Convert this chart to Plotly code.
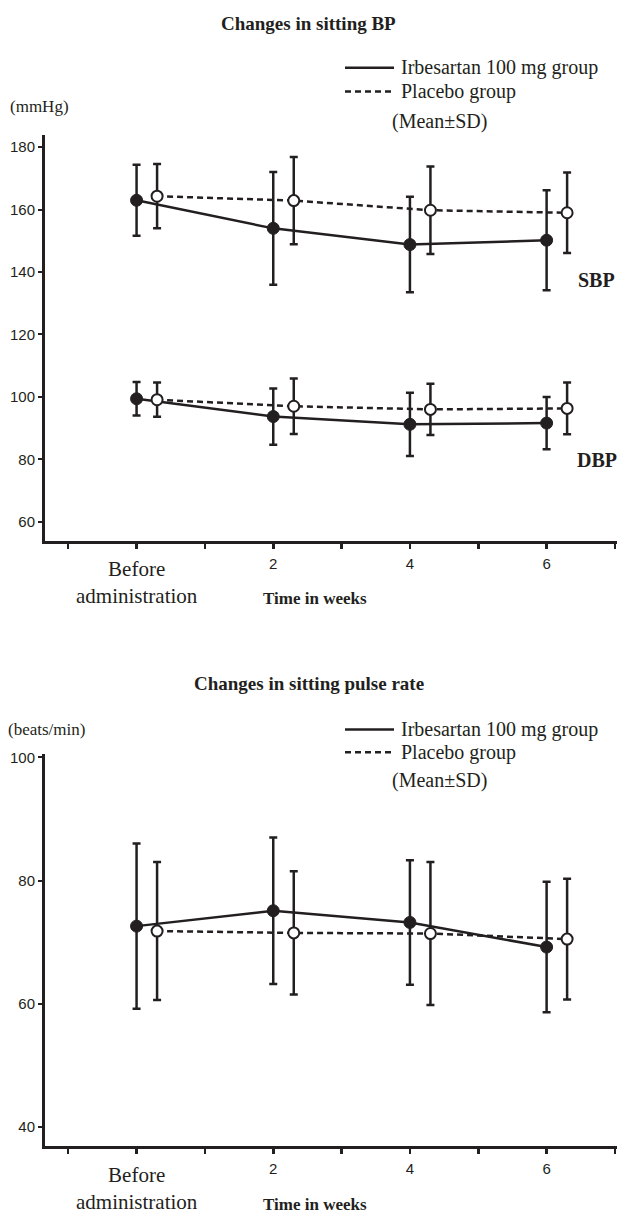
import plotly.graph_objects as go

# ---------------- data ----------------
weeks = [0, 2, 4, 6]
week_ticks = [-1, 0, 1, 2, 3, 4, 5, 6, 7]
week_ticktext = ["", "", "", "2", "", "4", "", "6", ""]

sbp_irb_mean = [163.0, 154.0, 148.8, 150.2]
sbp_irb_sd = [11.4, 18.1, 15.3, 16.0]
sbp_pla_mean = [164.3, 162.9, 159.8, 159.0]
sbp_pla_sd = [10.3, 14.0, 14.0, 12.9]

dbp_irb_mean = [99.4, 93.7, 91.2, 91.6]
dbp_irb_sd = [5.4, 9.0, 10.1, 8.4]
dbp_pla_mean = [99.1, 97.0, 96.0, 96.3]
dbp_pla_sd = [5.5, 8.9, 8.2, 8.3]

pr_irb_mean = [72.6, 75.1, 73.2, 69.2]
pr_irb_sd = [13.4, 11.9, 10.1, 10.6]
pr_pla_mean = [71.8, 71.5, 71.4, 70.5]
pr_pla_sd = [11.2, 10.0, 11.6, 9.8]

bp_ticks = [60, 80, 100, 120, 140, 160, 180]
pr_ticks = [40, 60, 80, 100]

group_names = ["Irbesartan 100 mg group", "Placebo group"]

# ---------------- style ----------------
C = "#231f20"
SERIF = "Liberation Serif, Times New Roman, serif"
NARROW = "Liberation Sans Narrow, Arial Narrow, Liberation Sans, Arial, sans-serif"
DODGE = 0.3
W, H = 617, 1213
ML = 45

fig = go.Figure()


def add_pair(irb_m, irb_sd, pla_m, pla_sd, xa, ya):
    fig.add_trace(go.Scatter(
        x=weeks, y=irb_m, mode="lines+markers", xaxis=xa, yaxis=ya,
        line=dict(color=C, width=2.5),
        marker=dict(symbol="circle", size=12, color=C, line=dict(color=C, width=1)),
        error_y=dict(type="data", array=irb_sd, visible=True, color=C, thickness=2.5, width=4),
        showlegend=False))
    fig.add_trace(go.Scatter(
        x=[w + DODGE for w in weeks], y=pla_m, mode="lines+markers", xaxis=xa, yaxis=ya,
        line=dict(color=C, width=2.5, dash="6px,4px"),
        marker=dict(symbol="circle", size=11, color="white", line=dict(color=C, width=2)),
        error_y=dict(type="data", array=pla_sd, visible=True, color=C, thickness=2.5, width=4),
        showlegend=False))


add_pair(sbp_irb_mean, sbp_irb_sd, sbp_pla_mean, sbp_pla_sd, "x", "y")
add_pair(dbp_irb_mean, dbp_irb_sd, dbp_pla_mean, dbp_pla_sd, "x", "y")
add_pair(pr_irb_mean, pr_irb_sd, pr_pla_mean, pr_pla_sd, "x2", "y2")


def py(px):
    return 1 - px / H


def pxx(px):
    return (px - ML) / (W - ML)


xcommon = dict(range=[-1.34, 7.03], showline=True, linewidth=3, linecolor=C, ticks="outside",
               ticklen=5, tickwidth=2.5, tickcolor=C, tickvals=week_ticks, ticktext=week_ticktext,
               tickfont=dict(family=NARROW, size=15, color=C), showgrid=False, zeroline=False,
               ticklabelstandoff=2, fixedrange=True)
ycommon = dict(showline=True, linewidth=3, linecolor=C, ticks="outside", ticklen=4, tickwidth=2,
               tickcolor=C, tickfont=dict(family=NARROW, size=15, color=C), showgrid=False,
               zeroline=False, fixedrange=True)

fig.update_layout(
    width=W, height=H,
    margin=dict(l=ML, r=0, t=0, b=0),
    paper_bgcolor="white", plot_bgcolor="white",
    showlegend=False,
    xaxis=dict(domain=[0, 1], anchor="y", **xcommon),
    yaxis=dict(domain=[py(537.3), py(130)], range=[53.94, 183.8], tickvals=bp_ticks, anchor="x", **ycommon),
    xaxis2=dict(domain=[0, 1], anchor="y2", **xcommon),
    yaxis2=dict(domain=[py(1145.7), py(752)], range=[36.9, 100.5], tickvals=pr_ticks, anchor="x2", **ycommon),
)

ann = []
shapes = []
title_x = pxx(308.5)
ann.append(dict(text="<b>Changes in sitting BP</b>", x=title_x, y=py(18), xref="paper", yref="paper",
                showarrow=False, font=dict(family=SERIF, size=19, color=C), xanchor="center", yanchor="middle"))
ann.append(dict(text="<b>Changes in sitting pulse rate</b>", x=title_x, y=py(681), xref="paper", yref="paper",
                showarrow=False, font=dict(family=SERIF, size=19, color=C), xanchor="center", yanchor="middle"))
ann.append(dict(text="(mmHg)", x=pxx(8), y=py(101), xref="paper", yref="paper", showarrow=False,
                font=dict(family=SERIF, size=17, color=C), xanchor="left", yanchor="middle"))
ann.append(dict(text="(beats/min)", x=pxx(6), y=py(727), xref="paper", yref="paper", showarrow=False,
                font=dict(family=SERIF, size=17, color=C), xanchor="left", yanchor="middle"))

# legends (line samples + labels) for both panels
for y1, y2, ym in [(62, 86, 116), (727, 750, 778)]:
    for yy, dash, name in [(y1, "solid", group_names[0]), (y2, "6px,4px", group_names[1])]:
        shapes.append(dict(type="line", xref="paper", yref="paper", x0=pxx(345), x1=pxx(394),
                           y0=py(yy), y1=py(yy), line=dict(color=C, width=2.5, dash=dash)))
        ann.append(dict(text=name, x=pxx(399), y=py(yy), xref="paper", yref="paper", showarrow=False,
                        font=dict(family=SERIF, size=20, color=C), xanchor="left", yanchor="middle"))
    ann.append(dict(text="(Mean±SD)", x=pxx(439), y=py(ym), xref="paper", yref="paper", showarrow=False,
                    font=dict(family=SERIF, size=20, color=C), xanchor="center", yanchor="middle"))

ann.append(dict(text="<b>SBP</b>", x=6.73, y=137.6, xref="x", yref="y", showarrow=False,
                font=dict(family=SERIF, size=20, color=C), xanchor="center", yanchor="middle"))
ann.append(dict(text="<b>DBP</b>", x=6.73, y=79.9, xref="x", yref="y", showarrow=False,
                font=dict(family=SERIF, size=20, color=C), xanchor="center", yanchor="middle"))
for xr, yr in [("x", "y domain"), ("x2", "y2 domain")]:
    ann.append(dict(text="Before<br>administration", x=0, y=0, xref=xr, yref=yr, yshift=-42,
                    showarrow=False, font=dict(family=SERIF, size=21, color=C),
                    xanchor="center", yanchor="middle"))
    ann.append(dict(text="<b>Time in weeks</b>", x=2.61, y=0, xref=xr, yref=yr, yshift=-58,
                    showarrow=False, font=dict(family=SERIF, size=17, color=C),
                    xanchor="center", yanchor="middle"))
fig.update_layout(annotations=ann, shapes=shapes)

fig.write_html("out.html", config={"displayModeBar": False, "staticPlot": True},
               post_script="document.body.style.margin='0';document.body.style.padding='0';"
                           "document.body.style.overflow='hidden';")
